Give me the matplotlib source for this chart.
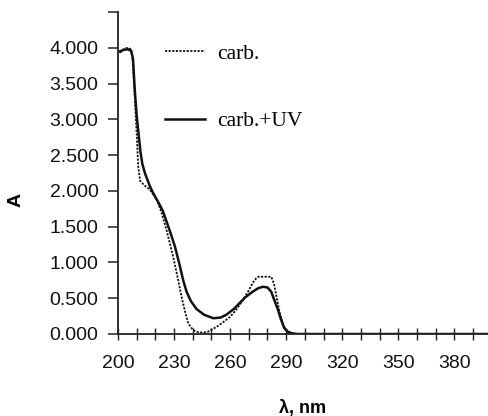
import matplotlib
matplotlib.use("Agg")
import matplotlib.pyplot as plt
import numpy as np

# carb. (dotted line)
wl_carb = [201, 203, 205, 207, 208, 209, 210, 210.8, 211.8, 214, 217, 220.7, 223, 226,
           229.5, 232, 234, 236, 237.6, 240, 242, 245, 248, 250, 252.8, 256, 260, 263,
           267, 270, 272, 274, 275, 278, 282, 283.5, 284.8, 286.5, 288.6, 290, 292, 295,
           300, 398]
a_carb = [3.93, 3.98, 4.00, 3.98, 3.80, 3.30, 2.80, 2.35, 2.14, 2.08, 2.02, 1.88, 1.72, 1.45,
          1.08, 0.78, 0.52, 0.30, 0.15, 0.06, 0.03, 0.02, 0.03, 0.06, 0.10, 0.16, 0.24, 0.33,
          0.48, 0.61, 0.71, 0.78, 0.80, 0.80, 0.80, 0.70, 0.52, 0.30, 0.12, 0.05, 0.01, 0.0,
          0.0, 0.0]

# carb.+UV (solid line)
wl_uv = [201, 203, 205, 207, 208, 209, 210, 211, 212, 213, 214.5, 217, 219, 221.6, 224, 226,
         228, 230.5, 233, 235, 236.7, 239, 242, 246, 251, 255, 258, 262, 265, 268, 272, 275,
         277.6, 280, 282, 284, 285.6, 287, 289, 291, 293, 296, 300, 398]
a_uv = [3.95, 3.97, 3.98, 3.96, 3.85, 3.40, 3.05, 2.80, 2.55, 2.38, 2.24, 2.07, 1.96, 1.84,
        1.72, 1.57, 1.42, 1.22, 0.96, 0.74, 0.59, 0.46, 0.35, 0.27, 0.22, 0.23, 0.27, 0.35,
        0.43, 0.51, 0.59, 0.64, 0.66, 0.65, 0.59, 0.45, 0.34, 0.22, 0.08, 0.03, 0.01, 0.0,
        0.0, 0.0]

x_ticks = [200, 230, 260, 290, 320, 350, 380]
y_ticks = [0.0, 0.5, 1.0, 1.5, 2.0, 2.5, 3.0, 3.5, 4.0, 4.5]
y_labels = ["0.000", "0.500", "1.000", "1.500", "2.000", "2.500", "3.000", "3.500", "4.000", ""]

fig = plt.figure(figsize=(4.88, 4.16), dpi=100)
ax = fig.add_axes([118/488, 82/416, 1 - 118/488, (334-12)/416])

col = "#111111"
ax.plot(wl_carb, a_carb, color=col, lw=1.3, ls=(0, (1.2, 0.8)), label="carb.")
ax.plot(wl_uv, a_uv, color=col, lw=1.8, ls="-", label="carb.+UV")

ax.set_xlim(200, 398)
ax.set_ylim(0, 4.5)
ax.set_xticks(x_ticks)
ax.set_xticks(np.arange(200, 400, 10), minor=True)
ax.set_yticks(y_ticks)
ax.set_yticklabels(y_labels)

for s in ["top", "right"]:
    ax.spines[s].set_visible(False)
for s in ["left", "bottom"]:
    ax.spines[s].set_linewidth(1.3)
    ax.spines[s].set_color("#222222")

ax.tick_params(axis="y", direction="out", length=7, width=1.1, pad=7,
               labelsize=14, colors="#222222", labelcolor="#111111")
ax.tick_params(axis="x", which="both", direction="inout", length=8, width=1.0, pad=11,
               labelsize=14, colors="#222222", labelcolor="#111111")
for lab in ax.get_xticklabels() + ax.get_yticklabels():
    lab.set_fontfamily("Liberation Sans")

ax.set_xlabel("λ, nm", fontsize=13, fontweight="bold", family="Liberation Sans")
ax.xaxis.set_label_coords(0.5, -0.205)
ax.set_ylabel("A", fontsize=14, fontweight="bold", family="Liberation Sans")
ax.yaxis.set_label_coords(-0.252, 0.416)

leg = ax.legend(loc="upper left", bbox_to_anchor=(0.127, 0.902), frameon=False,
                prop={"family": "Liberation Serif", "size": 15.5},
                handlelength=1.85, handletextpad=0.55, labelspacing=2.2,
                borderpad=0.0, borderaxespad=0.0)

fig.savefig("out.png", dpi=100, facecolor="white")
